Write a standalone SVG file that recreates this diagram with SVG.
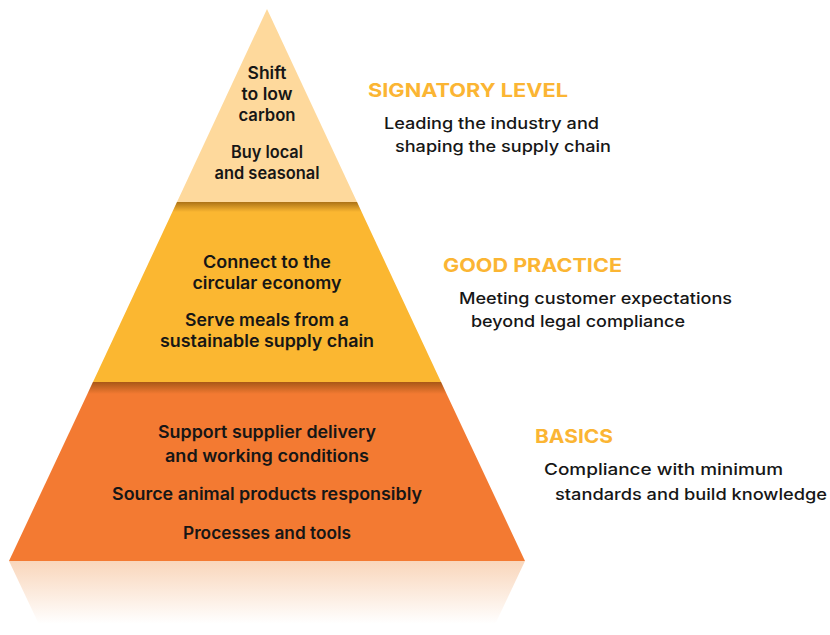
<svg xmlns="http://www.w3.org/2000/svg" width="830" height="635" viewBox="0 0 830 635">
<defs>
<style>
.pt{font-family:Inter,"Open Sans","Liberation Sans",sans-serif;font-size:17px;font-weight:600;fill:#161616;text-anchor:middle}
.hd{font-family:Inter,"Open Sans","Liberation Sans",sans-serif;font-size:19px;font-weight:700;fill:#fbb533}
.ds{font-family:Inter,"Open Sans","Liberation Sans",sans-serif;font-size:16px;font-weight:500;fill:#161616}
</style>
<linearGradient id="refl" x1="0" y1="0" x2="0" y2="1">
<stop offset="0" stop-color="#f9d6bb"/>
<stop offset="0.85" stop-color="#ffffff"/>
</linearGradient>
<linearGradient id="topShade" x1="0" y1="0" x2="0" y2="1">
<stop offset="0" stop-color="#6b3a00" stop-opacity="0.55"/>
<stop offset="1" stop-color="#6b3a00" stop-opacity="0"/>
</linearGradient>
<radialGradient id="swirlR" cx="0.5" cy="0" r="0.5">
<stop offset="0" stop-color="#7a4500" stop-opacity="0.4"/>
<stop offset="1" stop-color="#7a4500" stop-opacity="0"/>
</radialGradient>
<radialGradient id="swirlL" cx="0.5" cy="0" r="0.5">
<stop offset="0" stop-color="#7a2f00" stop-opacity="0.35"/>
<stop offset="1" stop-color="#7a2f00" stop-opacity="0"/>
</radialGradient>
<clipPath id="midClip"><polygon points="177,202 357,202 441,382 93,382"/></clipPath>
<clipPath id="botClip"><polygon points="93,382 441,382 525,561 9,561"/></clipPath>
</defs>

<polygon id="reflection" points="9,561 525,561 490,635 44,635" fill="url(#refl)"/>

<g id="tier-basics">
<polygon points="93,382 441,382 525,561 9,561" fill="#f37a32"/>
<g clip-path="url(#botClip)">
<rect x="9" y="382" width="520" height="12" fill="url(#topShade)"/>
<ellipse cx="140" cy="382" rx="110" ry="30" fill="url(#swirlL)"/>
</g>
<text class="pt" x="267" y="438" textLength="218" lengthAdjust="spacingAndGlyphs">Support supplier delivery</text>
<text class="pt" x="267" y="462" textLength="204" lengthAdjust="spacingAndGlyphs">and working conditions</text>
<text class="pt" x="267" y="500" textLength="310" lengthAdjust="spacingAndGlyphs">Source animal products responsibly</text>
<text class="pt" x="267" y="539" textLength="168" lengthAdjust="spacingAndGlyphs">Processes and tools</text>
</g>

<g id="tier-good-practice">
<polygon points="177,202 357,202 441,382 93,382" fill="#fbb731"/>
<g clip-path="url(#midClip)">
<rect x="93" y="202" width="350" height="10" fill="url(#topShade)"/>
<ellipse cx="320" cy="202" rx="70" ry="34" fill="url(#swirlR)"/>
</g>
<text class="pt" x="267" y="268" textLength="128" lengthAdjust="spacingAndGlyphs">Connect to the</text>
<text class="pt" x="267" y="289" textLength="149" lengthAdjust="spacingAndGlyphs">circular economy</text>
<text class="pt" x="267" y="326" textLength="164" lengthAdjust="spacingAndGlyphs">Serve meals from a</text>
<text class="pt" x="267" y="347" textLength="214" lengthAdjust="spacingAndGlyphs">sustainable supply chain</text>
</g>

<g id="tier-signatory">
<polygon points="267,9 357,202 177,202" fill="#fed99c"/>
<text class="pt" x="267" y="79" textLength="39" lengthAdjust="spacingAndGlyphs">Shift</text>
<text class="pt" x="267" y="100" textLength="51" lengthAdjust="spacingAndGlyphs">to low</text>
<text class="pt" x="267" y="121" textLength="57" lengthAdjust="spacingAndGlyphs">carbon</text>
<text class="pt" x="267" y="158" textLength="72" lengthAdjust="spacingAndGlyphs">Buy local</text>
<text class="pt" x="267" y="179" textLength="105" lengthAdjust="spacingAndGlyphs">and seasonal</text>
</g>

<g id="label-signatory">
<text class="hd" x="368" y="97" textLength="200" lengthAdjust="spacingAndGlyphs">SIGNATORY LEVEL</text>
<text class="ds" x="384" y="129" textLength="215" lengthAdjust="spacingAndGlyphs">Leading the industry and</text>
<text class="ds" x="395" y="152" textLength="216" lengthAdjust="spacingAndGlyphs">shaping the supply chain</text>
</g>

<g id="label-good-practice">
<text class="hd" x="443" y="272" textLength="179" lengthAdjust="spacingAndGlyphs">GOOD PRACTICE</text>
<text class="ds" x="459" y="304" textLength="273" lengthAdjust="spacingAndGlyphs">Meeting customer expectations</text>
<text class="ds" x="471" y="327" textLength="214" lengthAdjust="spacingAndGlyphs">beyond legal compliance</text>
</g>

<g id="label-basics">
<text class="hd" x="535" y="443" textLength="78" lengthAdjust="spacingAndGlyphs">BASICS</text>
<text class="ds" x="544" y="475" textLength="239" lengthAdjust="spacingAndGlyphs">Compliance with minimum</text>
<text class="ds" x="555" y="500" textLength="272" lengthAdjust="spacingAndGlyphs">standards and build knowledge</text>
</g>
</svg>
